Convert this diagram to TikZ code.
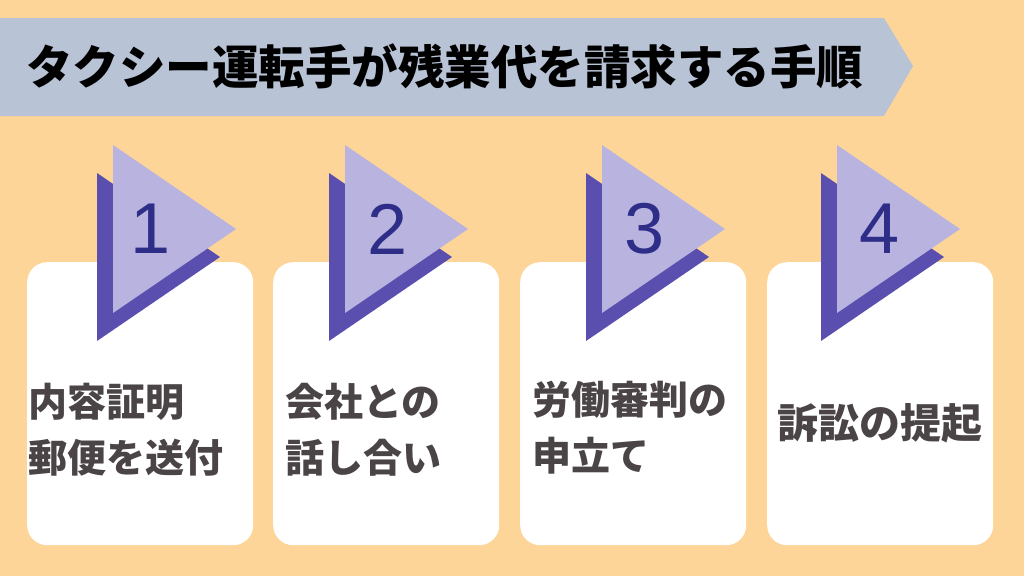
\documentclass[tikz,border=0pt]{standalone}
\usepackage{fontspec}
\newfontfamily\jpfont{Noto Sans CJK JP}
\setsansfont{Liberation Sans}
\usetikzlibrary{positioning}

\definecolor{bgpeach}{HTML}{FDD598}
\definecolor{bannergray}{HTML}{B8C3D6}
\definecolor{trilight}{HTML}{B9B3E0}
\definecolor{tridark}{HTML}{5A4FAE}
\definecolor{numblue}{HTML}{2E2D88}
\definecolor{textgray}{HTML}{4B4446}

\tikzset{
  card/.style={fill=white, rounded corners=20pt, minimum width=226pt,
    minimum height=283pt, anchor=north west, inner sep=0pt},
  numlabel/.style={text=numblue, inner sep=0pt, font=\fontsize{72}{72}\selectfont\sffamily},
  steptext/.style={text=textgray, align=left, inner sep=0pt,
    font=\fontsize{39}{56}\selectfont\jpfont\bfseries},
  titletext/.style={text=black, inner sep=0pt, anchor=west,
    font=\fontsize{46.5}{46.5}\selectfont\jpfont\bfseries}
}

\begin{document}
\begin{tikzpicture}[x=1pt, y=-1pt]
    % Background
    \fill[bgpeach] (0,0) rectangle (1024,576);
    \useasboundingbox (0,0) rectangle (1024,576);

    % Title banner
    \fill[bannergray] (0,18) -- (884,18) -- (913,66) -- (884,116) -- (0,116) -- cycle;
    \node[titletext] (title) at (26,66) {タクシー運転手が残業代を請求する手順};

    % Cards
    \foreach \cx/\n in {27/1, 273/2, 520/3, 767/4}
        \node[card] (card\n) at (\cx,262) {};

    % Triangle markers
    \foreach \tx/\n in {113/1, 345/2, 602/3, 837/4} {
        \fill[tridark] (\tx-16,173) -- (\tx+107,257) -- (\tx-16,341) -- cycle;
        \fill[trilight] (\tx,145) -- (\tx+123,229) -- (\tx,313) -- cycle;
    }

    % Step numbers
    \node[numlabel] (num1) at (151,229) {1};
    \node[numlabel] (num2) at (388,229) {2};
    \node[numlabel] (num3) at (645,229) {3};
    \node[numlabel] (num4) at (880,229) {4};

    % Step texts
    \node[steptext, anchor=west] (text1) at (28,430) {内容証明\\郵便を送付};
    \node[steptext, anchor=west] (text2) at (285,430) {会社との\\話し合い};
    \node[steptext, anchor=west] (text3) at (532,428) {労働審判の\\申立て};
    \node[steptext, font=\fontsize{41}{56}\selectfont\jpfont\bfseries] (text4) at (880,423) {訴訟の提起};
\end{tikzpicture}
\end{document}
